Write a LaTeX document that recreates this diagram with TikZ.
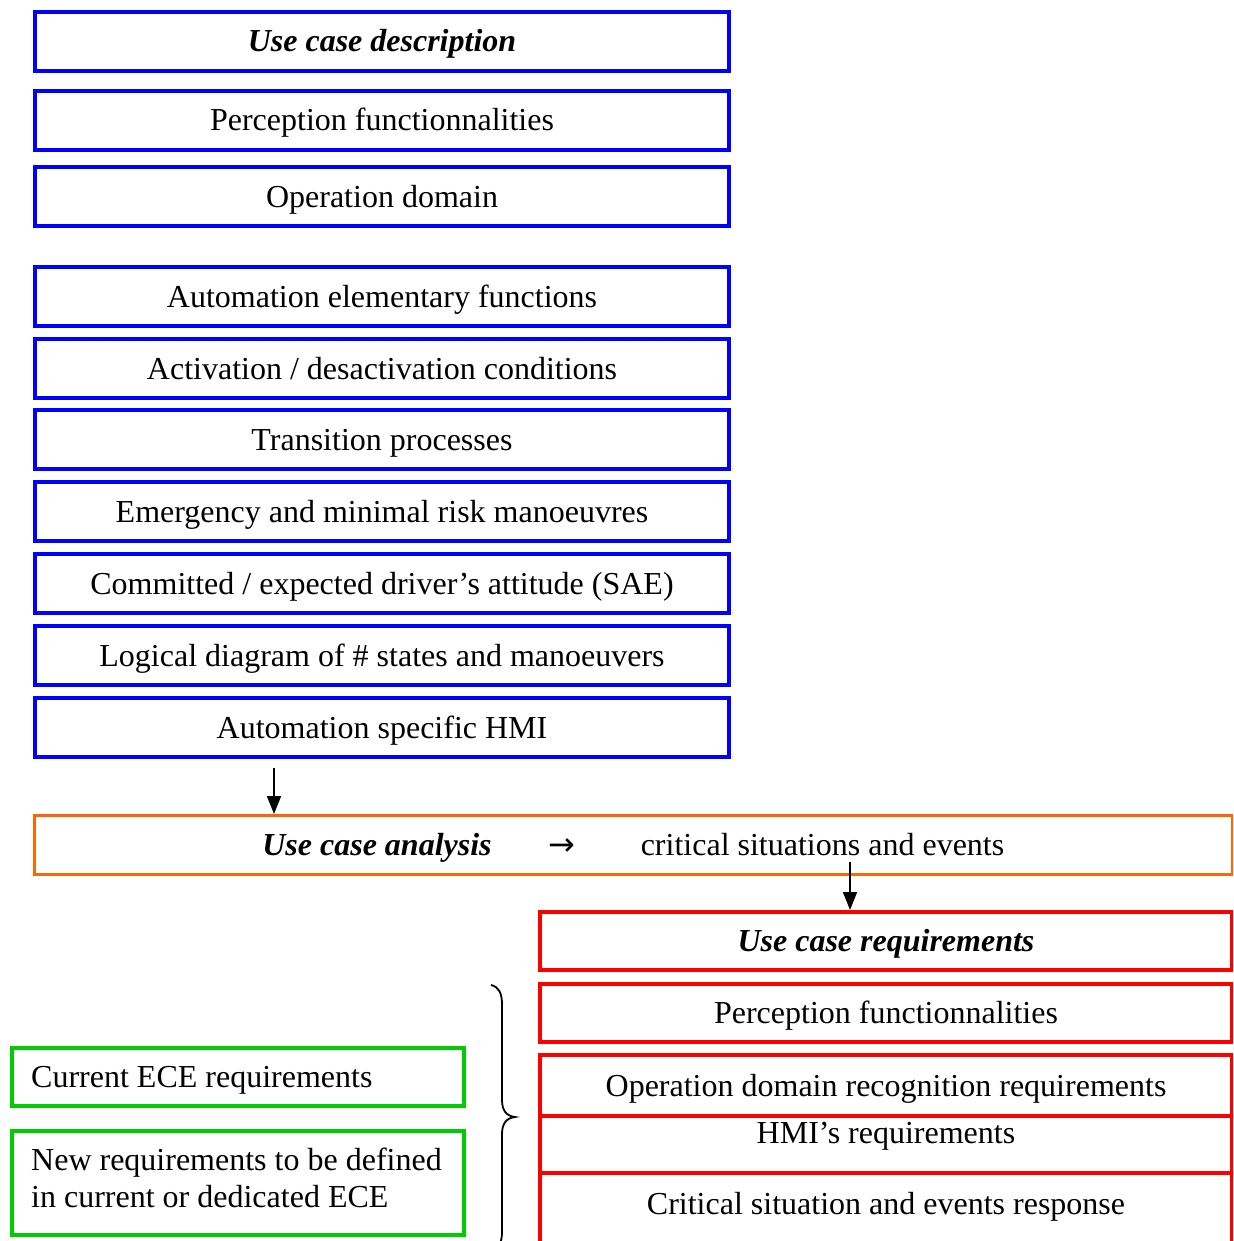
\documentclass[tikz,border=0pt]{standalone}
\usepackage{fontspec}
\setmainfont{Liberation Serif}
\newfontfamily\symfont{DejaVu Sans}
\usetikzlibrary{arrows.meta}
\definecolor{ucblue}{RGB}{0,0,255}
\definecolor{ucorange}{RGB}{255,102,0}
\definecolor{ucred}{RGB}{255,0,0}
\definecolor{ucgreen}{RGB}{0,204,0}
\begin{document}
\begin{tikzpicture}[x=1pt,y=-1pt,
  txt/.style={inner sep=0pt, text height=26pt, text depth=5pt, font=\fontsize{32}{37}\selectfont},
  ttl/.style={txt, font=\fontsize{32}{37}\selectfont\bfseries\itshape},
  multi/.style={inner sep=0pt, align=left, font=\fontsize{32}{37}\selectfont},
  box/.style={draw, line width=4pt, inner sep=0pt, text height=26pt, text depth=5pt,
    font=\fontsize{32}{37}\selectfont},
  bluebox/.style={box, draw=ucblue, minimum width=694pt, minimum height=59pt},
  redbox/.style={box, draw=ucred, minimum width=692pt},
  greenbox/.style={box, draw=ucgreen, minimum width=452pt},
  flow/.style={line width=1.6pt, -{Triangle[width=14pt,length=18pt]}},
]
\clip (0,0) rectangle (1233,1241);

% description stack
\node[bluebox] (desc)  at (382,41.5)  {\bfseries\itshape Use case description};
\node[bluebox] (perc)  at (382,120.5) {Perception functionnalities};
\node[bluebox] (odd)   at (382,197)   {Operation domain};
\node[bluebox] (auto)  at (382,296.5) {Automation elementary functions};
\node[bluebox] (activ) at (382,368.5) {Activation / desactivation conditions};
\node[bluebox] (trans) at (382,439.5) {Transition processes};
\node[bluebox] (emerg) at (382,511.5) {Emergency and minimal risk manoeuvres};
\node[bluebox] (drv)   at (382,583.5) {Committed / expected driver’s attitude (SAE)};
\node[bluebox] (logic) at (382,655.5) {Logical diagram of \# states and manoeuvers};
\node[bluebox] (hmi)   at (382,727.5) {Automation specific HMI};

% analysis bar
\node[box, draw=ucorange, line width=3pt, minimum width=1198pt, minimum height=59pt]
  (analysis) at (633.5,845) {};
\node[ttl] (antitle) at (377,845) {Use case analysis};
\node[txt] (anarrow) at (562,845) {\symfont →};
\node[txt] (anres)   at (822.5,845) {critical situations and events};

% requirements stack
\node[redbox, minimum height=58pt] (req)   at (886,941)    {\bfseries\itshape Use case requirements};
\node[redbox, minimum height=58pt] (rperc) at (886,1013)   {Perception functionnalities};
\node[redbox, minimum height=61pt] (rodd)  at (886,1085.5) {Operation domain recognition requirements};
\node[redbox, minimum height=57pt] (rhmi)  at (886,1144.5) {};
\node[redbox, minimum height=87pt] (rcrit) at (886,1216.5) {};
\node[txt] (rhmitxt)  at (886,1133) {HMI’s requirements};
\node[txt] (rcrittxt) at (886,1204) {Critical situation and events response};

% regulation boxes
\node[greenbox, minimum height=58pt]  (ece)    at (238,1077) {};
\node[greenbox, minimum height=104pt] (newece) at (238,1183) {};
\node[txt, anchor=west] (ecetxt) at (31,1077) {Current ECE requirements};
\node[multi, anchor=north west] (newecetxt) at (31,1148)
  {New requirements to be defined\\in current or dedicated ECE};

% connectors
\coordinate (a1) at (274,768);
\draw[flow] (a1) -- (a1 |- analysis.north);
\coordinate (a2) at (850,862);
\draw[flow] (a2) -- (a2 |- req.north);

% brace
\coordinate (bt) at (491,985);
\coordinate (bm) at (515,1117);
\coordinate (bb) at (491,1250);
\draw[line width=1.8pt]
  (bt) .. controls (499,987) and (502,993) .. (502,1005)
  -- (502,1100) .. controls (502,1110) and (506,1116) .. (bm)
  .. controls (506,1118) and (502,1124) .. (502,1134)
  -- (502,1232) .. controls (502,1242) and (499,1248) .. (bb);
\end{tikzpicture}
\end{document}
